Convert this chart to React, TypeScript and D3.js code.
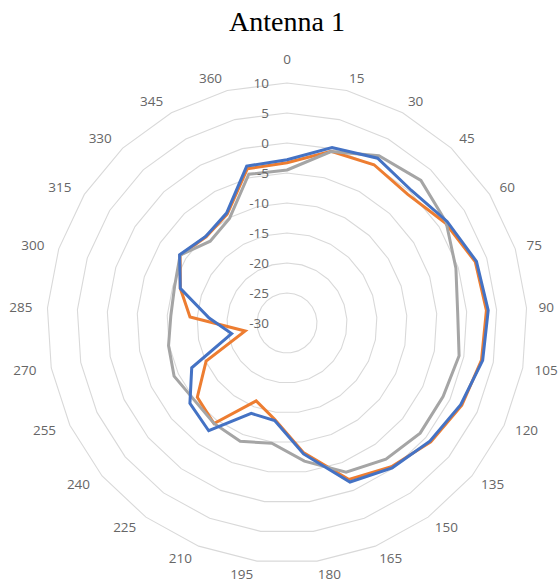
import React from "react";
import * as d3 from "d3";

const title = "Antenna 1";
const categories = ["0","15","30","45","60","75","90","105","120","135","150","165","180","195","210","225","240","255","270","285","300","315","330","345","360"];
const radialTicks = [-30, -25, -20, -15, -10, -5, 0, 5, 10];

// Received level per angle, three measurement runs
const seriesOrange = [-3.3,-0.45,0.1,-0.6,1.2,3.0,3.3,3.0,2.2,1.1,-0.4,-1.95,-8.25,-13.8,-16.05,-9.3,-10.6,-15.1,-22.9,-13.8,-11.3,-8.9,-10.3,-9.3,-3.45];
const seriesGray = [-4.5,-0.5,1.8,2.6,1.4,-0.4,-1.5,-0.8,-1.25,-1.2,-1.95,-3.25,-6.8,-9.8,-8.8,-9.3,-9.9,-9.2,-9.9,-10.6,-10.3,-8.9,-11.3,-10.1,-4.4];
const seriesBlue = [-2.8,0.2,1.35,0.3,1.6,3.2,3.6,3.2,2.0,0.9,-0.17,-1.5,-8.0,-13.6,-13.8,-7.8,-9.0,-12.45,-20.6,-17.0,-11.3,-8.8,-10.2,-9.1,-3.0];

const seriesList = [
  { name: "orange", values: seriesOrange, color: "#ED7D31" },
  { name: "gray", values: seriesGray, color: "#A5A5A5" },
  { name: "blue", values: seriesBlue, color: "#4472C4" },
];

const W = 560;
const H = 584;
const cx = 287;
const cy = 323;
const R = 240;
const labelR = 253;

export default function App() {
  const n = categories.length;
  const angle = d3.scaleLinear().domain([0, n]).range([0, 2 * Math.PI]);
  const radius = d3.scaleLinear().domain([-30, 10]).range([0, R]);

  const ringPath = (v: number) => {
    const pts = d3.range(n).map((i) => [angle(i), radius(v)] as [number, number]);
    return d3.lineRadial().curve(d3.curveLinearClosed)(pts) || "";
  };

  const seriesPath = (vals: number[]) =>
    d3
      .lineRadial<number>()
      .angle((_, i) => angle(i))
      .radius((d) => radius(d))
      .curve(d3.curveLinearClosed)(vals) || "";

  const labelFont = "'Open Sans', 'Liberation Sans', sans-serif";

  return (
    <svg width={W} height={H} style={{ position: "absolute", left: 0, top: 0, background: "#fff" }}>
      <text x={cx} y={31} textAnchor="middle" fontFamily="'Liberation Serif', 'Times New Roman', serif" fontSize={28} fill="#000">
        {title}
      </text>
      <g transform={`translate(${cx},${cy})`}>
        {radialTicks.slice(1).map((t) => (
          <path key={t} d={ringPath(t)} fill="none" stroke="#d9d9d9" strokeWidth={1.1} />
        ))}
        {seriesList.map((s) => (
          <path key={s.name} d={seriesPath(s.values)} fill="none" stroke={s.color} strokeWidth={3} strokeLinejoin="miter" />
        ))}
        {radialTicks.map((t) => (
          <text key={t} x={-18} y={-radius(t)} dy="0.35em" textAnchor="end" fontFamily={labelFont} fontSize={13.5} fill="#666">
            {t}
          </text>
        ))}
        {categories.map((c, i) => {
          const a = angle(i);
          const s = Math.sin(a);
          const co = Math.cos(a);
          let x = labelR * s;
          let y = -labelR * co;
          let anchor = "middle";
          if (s > 0.01) {
            anchor = "start";
            x -= 1;
          } else if (s < -0.01) {
            anchor = "end";
            x -= 2;
          } else {
            y -= 11;
          }
          return (
            <text key={c} x={x} y={y} dy="0.35em" textAnchor={anchor} fontFamily={labelFont} fontSize={13.5} fill="#666">
              {c}
            </text>
          );
        })}
      </g>
    </svg>
  );
}
